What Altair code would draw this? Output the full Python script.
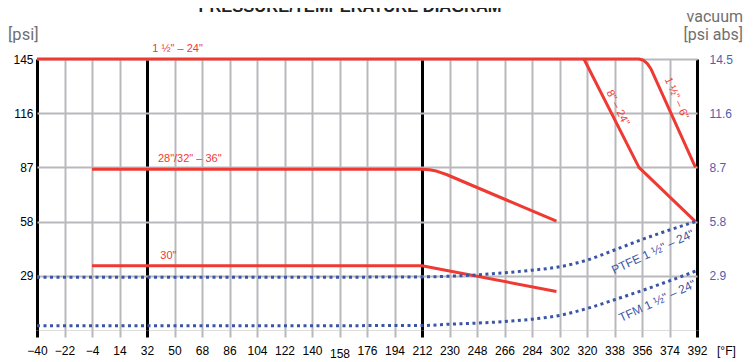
import altair as alt
import pandas as pd

RED = "#ee3a33"
BLUE = "#3b55a6"
BLUE_LBL = "#4a63b0"
GRID = "#b9b9bd"
GRAYTXT = "#707070"

# axis ticks
x_ticks = list(range(-40, 393, 18))
y_ticks = [29, 58, 87, 116, 145]

# red curves (temperature °F, pressure psi)
s_top_t = [-40, 354, 357, 359.5, 362, 391]
s_top_p = [145, 145, 144.3, 142.5, 139.5, 87]
s_8_24_t = [318, 354, 391]
s_8_24_p = [145, 87, 58]
s_28_36_t = [-4, 212, 217, 222, 228, 300]
s_28_36_p = [86, 86, 85.7, 84.9, 83.2, 58.2]
s_30_t = [-4, 212, 300]
s_30_p = [34.4, 34.4, 20.6]

# vacuum curves (dotted)
ptfe_t = [-40, 104, 212, 230, 248, 266, 284, 302, 320, 338, 356, 374, 391]
ptfe_p = [28.2, 28.2, 28.4, 28.8, 29.5, 30.6, 32.0, 33.8, 37.4, 42.8, 48.4, 53.5, 58]
tfm_t = [-40, 104, 212, 230, 248, 266, 284, 302, 320, 338, 356, 374, 392]
tfm_p = [2.3, 2.3, 2.4, 3.1, 3.7, 4.5, 5.8, 7.8, 11.5, 16.2, 21.1, 26.3, 31.8]

# curve labels
lab_text = ['1 ½" – 24"', '28"/32" – 36"', '30"', '8" – 24"', '1 ½" – 6"',
            'PTFE 1 ½" – 24"', 'TFM 1 ½" – 24"']
lab_t = [52, 60, 46, 340, 378.5, 363, 366]
lab_p = [150.3, 91.5, 39.6, 118.8, 124, 41.8, 15.6]
lab_angle = [0, 0, 0, 63, 66, 335, 335]
lab_color = [RED, RED, RED, RED, RED, BLUE, BLUE]
lab_size = [11, 11, 11, 11, 11, 12, 12]

red_rows = []
for name, ts, ps in [("top", s_top_t, s_top_p), ("8-24", s_8_24_t, s_8_24_p),
                     ("28-36", s_28_36_t, s_28_36_p), ("30", s_30_t, s_30_p)]:
    for i, (t, p) in enumerate(zip(ts, ps)):
        red_rows.append({"series": name, "t": t, "p": p, "i": i})
red_df = pd.DataFrame(red_rows)

vac_rows = []
for name, ts, ps in [("PTFE", ptfe_t, ptfe_p), ("TFM", tfm_t, tfm_p)]:
    for i, (t, p) in enumerate(zip(ts, ps)):
        vac_rows.append({"series": name, "t": t, "p": p, "i": i})
vac_df = pd.DataFrame(vac_rows)

lab_df = pd.DataFrame({"text": lab_text, "t": lab_t, "p": lab_p, "angle": lab_angle,
                       "color": lab_color, "size": lab_size})

black_test = "datum.value == -40 || datum.value == 32 || datum.value == 212 || datum.value == 392"

xscale = alt.Scale(domain=[-40, 392], nice=False, zero=False)
yscale = alt.Scale(domain=[0, 145], nice=False)

xaxis = alt.Axis(values=x_ticks, title=None, grid=True,
                 gridColor=alt.condition(black_test, alt.value("black"), alt.value(GRID)),
                 gridWidth=alt.condition(black_test, alt.value(3), alt.value(2)),
                 domain=False, ticks=True, tickSize=7,
                 tickWidth=alt.condition(black_test, alt.value(3), alt.value(2)),
                 tickColor=alt.condition(black_test, alt.value("black"), alt.value(GRID)),
                 labelPadding=alt.condition("datum.value == 158", alt.value(11), alt.value(8)),
                 labelFont="Liberation Sans", labelFontSize=12, labelColor="black",
                 labelFlush=False, labelOverlap=False)

yaxis_left = alt.Axis(values=y_ticks, title=None, grid=True, gridColor=GRID, gridWidth=2,
                      domain=False, ticks=False, labelPadding=4,
                      labelFont="Liberation Sans", labelFontSize=12, labelColor="black",
                      orient="left")
yaxis_right = alt.Axis(values=y_ticks, title=None, grid=False, domain=False, ticks=False,
                       labelPadding=12, labelExpr="format(datum.value / 10, '.1f')",
                       labelFont="Liberation Sans", labelFontSize=12, labelColor=BLUE_LBL,
                       orient="right")

X = alt.X("t:Q", scale=xscale, axis=xaxis)

red = alt.Chart(red_df).mark_line(color=RED, strokeWidth=3, strokeJoin="round").encode(
    x=X, y=alt.Y("p:Q", scale=yscale, axis=yaxis_left),
    detail="series:N", order="i:Q")

vac = alt.Chart(vac_df).mark_line(color=BLUE, strokeWidth=3, strokeDash=[3, 3.5],
                                  interpolate="monotone").encode(
    x=X, y=alt.Y("p:Q", scale=yscale, axis=yaxis_right),
    detail="series:N", order="i:Q")

labels = alt.Chart(lab_df).mark_text(font="Liberation Sans", align="center",
                                     baseline="middle").encode(
    x=X, y=alt.Y("p:Q", scale=yscale, axis=None),
    text="text:N", angle=alt.Angle("angle:Q", scale=None),
    color=alt.Color("color:N", scale=None), size=alt.Size("size:Q", scale=None))

one = pd.DataFrame({"a": [0]})
def note(txt, x, y, align, size, color, weight="normal", font="Roboto", baseline="alphabetic"):
    return alt.Chart(one).mark_text(text=txt, x=x, y=y, align=align, baseline=baseline,
                                    fontSize=size, color=color, fontWeight=weight, font=font)

notes = [
    note("PRESSURE/TEMPERATURE DIAGRAM", 313, -47, "center", 16.5, "#222222", "bold", "Liberation Sans"),
    note("[psi]", -29, -19, "left", 16.5, GRAYTXT),
    note("vacuum", 706, -37, "right", 16, GRAYTXT),
    note("[psi abs]", 706, -19, "right", 16, GRAYTXT),
    note("[°F]", 680, 296, "left", 12, "black", font="Liberation Sans"),
]

chart = alt.layer(red, vac, labels, *notes).resolve_axis(y="independent").properties(
    width=660, height=271,
    autosize=alt.AutoSizeParams(type="none"),
    padding={"left": 29, "top": 51, "right": 50, "bottom": 32},
).configure_view(stroke="black", strokeWidth=3).configure(background="white")

chart.save("out.html", embed_options={"renderer": "svg", "actions": False})
